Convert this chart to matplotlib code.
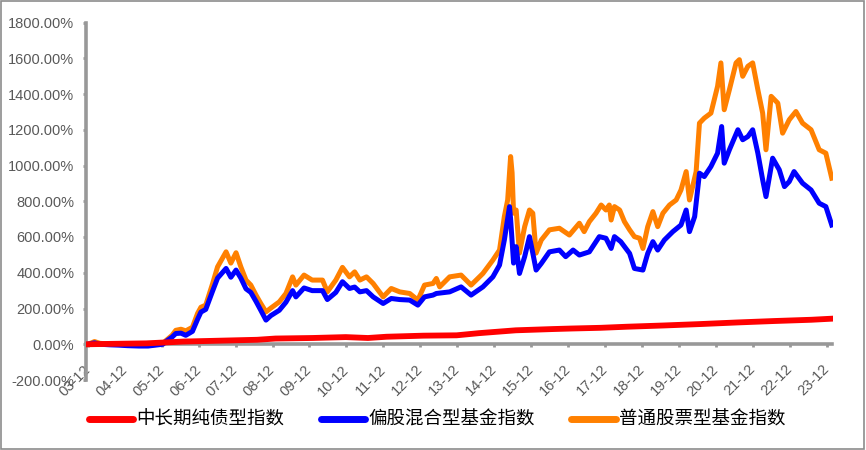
import matplotlib
matplotlib.use("Agg")
import matplotlib.pyplot as plt
from matplotlib.patches import Rectangle

plt.rcParams['font.family'] = ['Liberation Sans', 'DejaVu Sans']

# ---- data (fractional years, cumulative return in %) ----
bond_t = [2003.92, 2004.5, 2005.5, 2006.5, 2007.5, 2008.5, 2009.0, 2010.0, 2010.9, 2011.5,
          2012.0, 2013.0, 2013.9, 2014.5, 2015.5, 2016.5, 2017.0, 2017.8, 2018.5, 2019.5,
          2020.5, 2021.5, 2022.5, 2023.5, 2024.05]
bond_v = [0, 2, 5, 15, 20, 25, 32, 35, 40, 35,
          42, 48, 50, 62, 78, 85, 88, 92, 98, 105,
          113, 122, 130, 137, 143]

mixed_t = [2003.92, 2004.10, 2004.25, 2004.50, 2004.75, 2005.00, 2005.30, 2005.55, 2005.75, 2005.95,
           2006.03, 2006.20, 2006.30, 2006.44, 2006.57, 2006.75, 2006.89, 2006.98, 2007.11, 2007.30,
           2007.43, 2007.66, 2007.79, 2007.93, 2008.06, 2008.20, 2008.33, 2008.47, 2008.60, 2008.74,
           2008.87, 2009.10, 2009.28, 2009.46, 2009.55, 2009.77, 2009.99, 2010.27, 2010.40, 2010.63,
           2010.81, 2011.00, 2011.14, 2011.28, 2011.46, 2011.64, 2011.91, 2012.13, 2012.36, 2012.63,
           2012.85, 2013.03, 2013.26, 2013.35, 2013.71, 2014.02, 2014.29, 2014.61, 2014.88, 2015.06,
           2015.19, 2015.33, 2015.36, 2015.44, 2015.51, 2015.60, 2015.74, 2015.87, 2015.96, 2016.05,
           2016.19, 2016.41, 2016.68, 2016.85, 2017.05, 2017.22, 2017.49, 2017.76, 2017.94, 2018.08,
           2018.17, 2018.34, 2018.58, 2018.71, 2018.94, 2019.07, 2019.21, 2019.34, 2019.52, 2019.75,
           2019.97, 2020.11, 2020.20, 2020.34, 2020.47, 2020.60, 2020.78, 2020.96, 2021.07, 2021.14,
           2021.28, 2021.51, 2021.64, 2021.78, 2021.91, 2022.05, 2022.18, 2022.27, 2022.45, 2022.63,
           2022.77, 2022.90, 2023.03, 2023.26, 2023.49, 2023.71, 2023.89, 2024.05]
mixed_v = [0, 8, 0, -3, -5, -8, -10, -10, -5, 0,
           15, 40, 60, 62, 50, 72, 140, 180, 195, 300,
           370, 424, 375, 415, 370, 310, 290, 240, 190, 135,
           160, 190, 235, 300, 265, 315, 300, 300, 250, 290,
           350, 312, 320, 293, 300, 265, 228, 256, 250, 247,
           219, 265, 275, 284, 293, 321, 275, 321, 377, 443,
           583, 770, 700, 454, 546, 396, 490, 602, 510, 415,
           452, 517, 527, 490, 527, 499, 517, 602, 593, 536,
           602, 574, 508, 424, 415, 508, 574, 527, 583, 630,
           667, 751, 630, 714, 957, 938, 994, 1069, 1218, 1013,
           1088, 1200, 1144, 1162, 1200, 1069, 920, 826, 1041, 976,
           882, 910, 966, 901, 863, 789, 770, 667]

stock_t = [2003.92, 2004.02, 2004.10, 2004.25, 2004.50, 2004.75, 2005.00, 2005.30, 2005.55, 2005.75,
           2005.95, 2006.03, 2006.20, 2006.30, 2006.44, 2006.57, 2006.75, 2006.89, 2006.98, 2007.11,
           2007.30, 2007.43, 2007.66, 2007.79, 2007.93, 2008.06, 2008.20, 2008.33, 2008.47, 2008.60,
           2008.74, 2008.87, 2009.10, 2009.28, 2009.46, 2009.55, 2009.77, 2009.99, 2010.27, 2010.40,
           2010.63, 2010.81, 2011.00, 2011.14, 2011.28, 2011.46, 2011.64, 2011.91, 2012.13, 2012.36,
           2012.63, 2012.85, 2013.03, 2013.26, 2013.35, 2013.44, 2013.71, 2014.02, 2014.29, 2014.61,
           2014.88, 2015.06, 2015.19, 2015.28, 2015.36, 2015.40, 2015.44, 2015.51, 2015.60, 2015.74,
           2015.87, 2015.96, 2016.05, 2016.19, 2016.41, 2016.68, 2016.95, 2017.22, 2017.35, 2017.49,
           2017.67, 2017.81, 2017.94, 2018.03, 2018.08, 2018.17, 2018.31, 2018.44, 2018.58, 2018.71,
           2018.85, 2018.94, 2019.07, 2019.21, 2019.34, 2019.48, 2019.66, 2019.84, 2019.97, 2020.11,
           2020.20, 2020.38, 2020.47, 2020.60, 2020.78, 2020.96, 2021.05, 2021.14, 2021.28, 2021.46,
           2021.55, 2021.64, 2021.78, 2021.91, 2022.05, 2022.18, 2022.27, 2022.41, 2022.59, 2022.72,
           2022.90, 2023.08, 2023.26, 2023.49, 2023.71, 2023.89, 2024.05]
stock_v = [0, 8, 15, 5, 2, 0, -3, -5, -6, -2,
           5, 20, 50, 78, 84, 75, 95, 173, 207, 219,
           342, 433, 517, 454, 512, 433, 359, 331, 275, 228,
           181, 202, 237, 284, 377, 331, 387, 359, 359, 293,
           359, 430, 377, 405, 359, 377, 340, 265, 312, 293,
           284, 247, 331, 340, 368, 321, 377, 387, 331, 396,
           471, 527, 714, 807, 1050, 959, 733, 751, 510, 658,
           751, 733, 510, 583, 640, 649, 611, 677, 630, 686,
           733, 779, 751, 779, 695, 770, 751, 686, 640, 602,
           593, 536, 658, 742, 658, 733, 779, 807, 863, 966,
           807, 966, 1237, 1265, 1293, 1443, 1574, 1312, 1424, 1574,
           1592, 1499, 1555, 1574, 1424, 1293, 1088, 1387, 1349, 1181,
           1256, 1302, 1237, 1200, 1088, 1069, 929]

series_names = ['中长期纯债型指数', '偏股混合型基金指数', '普通股票型基金指数']
series_colors = ['#FF0000', '#0000FF', '#FF8000']

tick_years = [2003.917 + k for k in range(21)]
tick_labels = ['%02d-12' % (3 + k) for k in range(21)]
y_ticks = list(range(-200, 1801, 200))

# ---- figure ----
W, H = 866, 450
fig = plt.figure(figsize=(W / 100, H / 100), dpi=100)
ax_l, ax_r, ax_t, ax_b = 86, 832.5, 22.5, 380
ax = fig.add_axes([ax_l / W, 1 - ax_b / H, (ax_r - ax_l) / W, (ax_b - ax_t) / H])

lw = 3.6
ax.plot(stock_t, stock_v, color=series_colors[2], lw=lw, label=series_names[2], zorder=3,
        solid_joinstyle='round')
ax.plot(mixed_t, mixed_v, color=series_colors[1], lw=lw, label=series_names[1], zorder=4,
        solid_joinstyle='round')
ax.plot(bond_t, bond_v, color=series_colors[0], lw=lw + 0.6, label=series_names[0], zorder=5,
        solid_joinstyle='round')

ax.set_xlim(2003.87, 2024.07)
ax.set_ylim(-200, 1800)

gray = '#989898'
for s in ['top', 'right']:
    ax.spines[s].set_visible(False)
ax.spines['left'].set_color(gray)
ax.spines['left'].set_linewidth(2.6)
ax.spines['bottom'].set_color(gray)
ax.spines['bottom'].set_linewidth(2.6)
ax.spines['bottom'].set_position(('data', 0))
ax.spines['bottom'].set_zorder(2)

ax.set_yticks(y_ticks)
ax.set_yticklabels(['%.2f%%' % v for v in y_ticks])
ax.set_xticks(tick_years)
ax.set_xticklabels(tick_labels)

ax.tick_params(axis='y', direction='out', length=2.5, width=2, color=gray,
               labelsize=10.5, labelcolor='#595959', pad=6)
ax.tick_params(axis='x', direction='out', length=2.5, width=2, color=gray,
               labelsize=10.5, labelcolor='#595959', pad=14)
for lab in ax.get_xticklabels():
    lab.set_rotation(45)
    lab.set_ha('right')
    lab.set_va('center')
    lab.set_rotation_mode('anchor')

handles, labels = ax.get_legend_handles_labels()
order = [2, 1, 0]
leg = fig.legend([handles[i] for i in order], [labels[i] for i in order],
                 loc='center', bbox_to_anchor=(437 / W, 1 - 420 / H), ncol=3,
                 frameon=False, prop={'family': ['Noto Sans CJK SC', 'DejaVu Sans'], 'size': 13.3},
                 handlelength=2.4, handletextpad=0.15, columnspacing=2.0, borderaxespad=0)
for h in leg.get_lines():
    h.set_linewidth(5)
    h.set_solid_capstyle('round')

fig.patches.append(Rectangle((0.5 / W, 1.5 / H), (863 / W), (447.5 / H), transform=fig.transFigure,
                             fill=False, edgecolor='#8c8c8c', linewidth=1.2))

fig.savefig('out.png', dpi=100)
